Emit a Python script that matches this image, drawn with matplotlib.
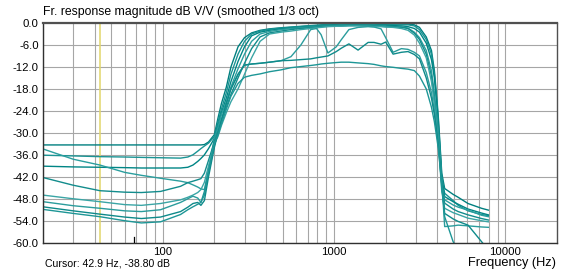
import matplotlib
matplotlib.use("Agg")
import matplotlib.pyplot as plt
import numpy as np
from matplotlib.ticker import FixedLocator, NullFormatter

# ---------------- data ----------------
freq = [20, 30, 43, 60, 75, 97, 127, 140, 150, 160, 167, 175, 185, 200, 210, 220, 235, 250,
        275, 300, 330, 370, 420, 490, 560, 640, 730, 790, 840, 920, 1030, 1100, 1220, 1380,
        1580, 1710, 1880, 2000, 2210, 2470, 2700, 2940, 3150, 3450, 3700, 3850, 3950, 4050,
        4150, 4250, 4420, 4950, 5300, 6050, 7250, 7950]

curve_a = [-33.3, -33.3, -33.3, -33.3, -33.3, -33.3, -33.3, -33.3, -33.3, -33.3, -33.3, -33.2, -32.5, -30.5,
           -26.0, -22.0, -17.5, -12.0, -6.5, -4.0, -2.7, -2.0, -1.6, -1.3,
           -1.1, -0.9, -0.7, -0.6, -0.5, -0.4, -0.4, -0.3, -0.3, -0.2, -0.2, -0.2, -0.2, -0.2, -0.2, -0.3,
           -0.3, -0.5, -1.2, -3.8, -7.5, -13.0, -19.0, -25.0, -33.0, -41.0,
           -45.2, -46.8, -47.6, -49.3, -50.6, -51.1]
curve_b = [-36.1, -36.3, -36.5, -36.6, -36.7, -36.8, -36.9, -36.6, -36.0, -35.0, -34.3, -33.6, -32.8, -31.0,
           -27.0, -23.5, -19.0, -14.0, -8.5, -5.0, -3.0, -2.2, -1.7, -1.4,
           -1.2, -1.0, -0.8, -0.7, -0.6, -0.5, -0.5, -0.4, -0.4, -0.4, -0.3, -0.3, -0.4, -0.4, -0.4, -0.5,
           -0.5, -0.8, -1.8, -4.5, -8.5, -14.0, -20.0, -26.0, -34.0, -42.0,
           -46.5, -48.5, -49.8, -51.3, -52.3, -52.6]
curve_c = [-39.1, -39.3, -39.4, -39.5, -39.6, -39.6, -39.6, -39.4, -38.8, -37.8, -37.0, -36.0, -34.3, -31.5,
           -28.0, -24.5, -20.5, -16.0, -10.5, -6.5, -3.5, -2.5, -2.0, -1.6,
           -1.4, -1.2, -1.0, -0.9, -0.8, -0.7, -0.6, -0.6, -0.5, -0.5, -0.5, -0.6, -0.6, -0.6, -0.7, -0.8,
           -1.0, -1.5, -2.5, -5.5, -10.0, -15.0, -21.0, -27.0, -35.0, -43.0,
           -47.4, -48.8, -49.5, -50.8, -51.9, -52.4]
curve_d = [-34.4, -37.2, -38.8, -40.8, -41.6, -42.4, -43.2, -43.6, -44.2, -44.8, -45.3, -45.5, -40.0, -31.5,
           -28.5, -25.0, -21.5, -17.5, -12.5, -8.5, -5.0, -3.0, -2.3, -1.8,
           -1.5, -1.3, -1.1, -1.0, -0.9, -0.8, -0.7, -0.6, -0.6, -0.6, -0.6, -0.7, -0.8, -0.9, -1.0, -1.0,
           -1.4, -2.5, -4.0, -7.5, -13.0, -19.0, -24.0, -29.0, -36.0, -44.0,
           -48.3, -49.7, -50.3, -51.1, -52.5, -52.9]
curve_e = [-42.2, -44.3, -45.8, -46.2, -46.3, -46.0, -44.6, -43.6, -43.2, -42.8, -42.5, -41.0, -37.5, -32.5,
           -29.5, -26.5, -23.0, -19.5, -15.0, -11.0, -7.0, -3.8, -2.7, -2.2,
           -1.8, -1.5, -1.3, -1.1, -1.0, -0.9, -0.8, -0.8, -0.7, -0.7, -0.8, -0.8, -0.9, -1.0, -1.0, -1.2,
           -1.5, -2.8, -4.5, -8.5, -14.5, -21.0, -26.0, -31.0, -38.0, -45.0,
           -49.2, -50.8, -51.5, -52.4, -53.4, -53.8]
curve_f = [-47.0, -48.0, -48.8, -49.6, -49.8, -49.3, -48.3, -47.6, -47.0, -46.3, -45.5, -43.5, -39.0, -33.0,
           -31.0, -28.0, -24.5, -21.5, -18.0, -14.0, -9.5, -5.0, -3.0, -2.5,
           -2.2, -1.8, -1.5, -1.3, -1.2, -1.0, -0.9, -0.9, -0.8, -0.8, -0.9, -1.0, -1.0, -1.1, -1.2, -1.5,
           -2.0, -3.3, -5.5, -9.5, -16.0, -22.0, -27.0, -32.0, -39.0, -46.0,
           -50.6, -51.8, -52.3, -53.3, -54.0, -54.3]
curve_w1 = [-48.8, -49.9, -50.6, -51.3, -51.5, -51.0, -49.0, -48.0, -47.3, -47.8, -49.0, -47.0, -41.0, -33.5,
            -30.0, -26.5, -22.0, -18.0, -14.0, -11.5, -11.2, -11.0, -10.7, -10.3,
            -9.2, -6.0, -1.8, -1.5, -3.2, -8.2, -6.5, -4.6, -1.8, -1.2, -1.0, -1.1, -1.6, -4.0, -8.0, -7.0,
            -7.2, -8.0, -9.0, -13.5, -19.0, -24.0, -28.0, -32.0, -37.0, -43.0,
            -55.6, -55.4, -55.2, -55.4, -55.7, -55.8]
curve_w2 = [-50.2, -51.3, -52.2, -53.0, -53.4, -53.0, -51.5, -50.3, -49.3, -49.0, -49.8, -48.5, -42.0, -34.0,
            -30.0, -26.5, -22.0, -18.0, -14.0, -11.5, -11.2, -11.0, -10.7, -10.3,
            -10.2, -10.0, -9.8, -9.5, -9.3, -9.0, -7.8, -6.9, -5.7, -7.4, -5.3, -5.3, -5.8, -5.2, -8.5, -8.0,
            -7.8, -8.6, -9.8, -15.0, -20.5, -25.0, -29.0, -33.0, -38.0, -44.0,
            -52.0, -53.5, -54.2, -55.2, -59.7, -62.0]
curve_l = [-50.9, -52.0, -52.9, -54.0, -54.6, -54.3, -52.3, -51.0, -50.2, -49.5, -49.0, -46.0, -40.5, -33.0,
           -30.5, -27.5, -23.5, -20.0, -16.5, -14.8, -14.3, -13.9, -13.3, -12.8,
           -12.2, -11.9, -11.6, -11.4, -11.2, -11.0, -10.8, -10.7, -10.7, -10.9, -11.1, -11.3, -11.7, -11.9, -12.1, -12.4,
           -12.6, -13.0, -14.5, -18.0, -23.0, -27.0, -30.5, -34.0, -39.0, -44.0,
           -52.9, -59.7, -62.0, -64.0, -66.0, -67.0]

curves = [curve_a, curve_b, curve_c, curve_d, curve_e, curve_f, curve_w1, curve_w2, curve_l]
curve_colors = ['#007f7f', '#1a9494', '#008585', '#2a9e9e', '#128c8c', '#3aa5a5', '#2a9c9c', '#0e8a8a', '#1d9696']

y_ticks = [0, -6, -12, -18, -24, -30, -36, -42, -48, -54, -60]
x_major = [100, 1000, 10000]
x_minor = [20, 30, 40, 50, 60, 70, 80, 90, 200, 300, 400, 500, 600, 700, 800, 900,
           2000, 3000, 4000, 5000, 6000, 7000, 8000, 9000]
cursor_freq = 42.9
marker_freq = 68

title = "Fr. response magnitude dB V/V (smoothed 1/3 oct)"
cursor_text = "Cursor: 42.9 Hz, -38.80 dB"
xlabel = "Frequency (Hz)"

# ---------------- figure ----------------
plt.rcParams['font.family'] = ['Liberation Sans', 'DejaVu Sans']
fig = plt.figure(figsize=(5.64, 2.75), dpi=100)
ax = fig.add_axes([43 / 564, 1 - 242.7 / 275, (557 - 43) / 564, (242.7 - 23) / 275])

ax.set_xscale('log')
ax.set_xlim(20, 20000)
ax.set_ylim(-60, 0)

ax.xaxis.set_major_locator(FixedLocator(x_major))
ax.xaxis.set_minor_locator(FixedLocator(x_minor))
ax.xaxis.set_minor_formatter(NullFormatter())
ax.set_xticklabels([str(v) for v in x_major])
ax.set_yticks(y_ticks)
ax.set_yticklabels([f"{v:.1f}" for v in y_ticks])

ax.grid(True, which='both', axis='x', color='#a6a6a6', linewidth=0.8)
ax.grid(True, which='major', axis='y', color='#a6a6a6', linewidth=0.8)
ax.set_axisbelow(True)
ax.tick_params(which='both', length=0, labelsize=8.2, colors='black', pad=3)

for s in ['left', 'bottom']:
    ax.spines[s].set_color('#303030')
    ax.spines[s].set_linewidth(1.0)
ax.spines['top'].set_color('#505050')
ax.spines['top'].set_linewidth(1.6)
ax.spines['right'].set_color('#505050')
ax.spines['right'].set_linewidth(1.0)

ax.axvline(cursor_freq, color='#e2d66a', linewidth=1.1, zorder=1.5)
ax.axvline(marker_freq, ymin=0, ymax=0.025, color='black', linewidth=0.9, zorder=3)

for vals, col in zip(curves, curve_colors):
    ax.plot(freq, vals, color=col, linewidth=1.0, zorder=2, clip_on=True)

fig.text(43 / 564, 1 - 12 / 275, title, fontsize=8.8, ha='left', va='center')
fig.text(45 / 564, 1 - 264 / 275, cursor_text, fontsize=7.6, ha='left', va='center')
fig.text(556 / 564, 1 - 263 / 275, xlabel, fontsize=9.2, ha='right', va='center')

fig.savefig('out.png', dpi=100, facecolor='white')
